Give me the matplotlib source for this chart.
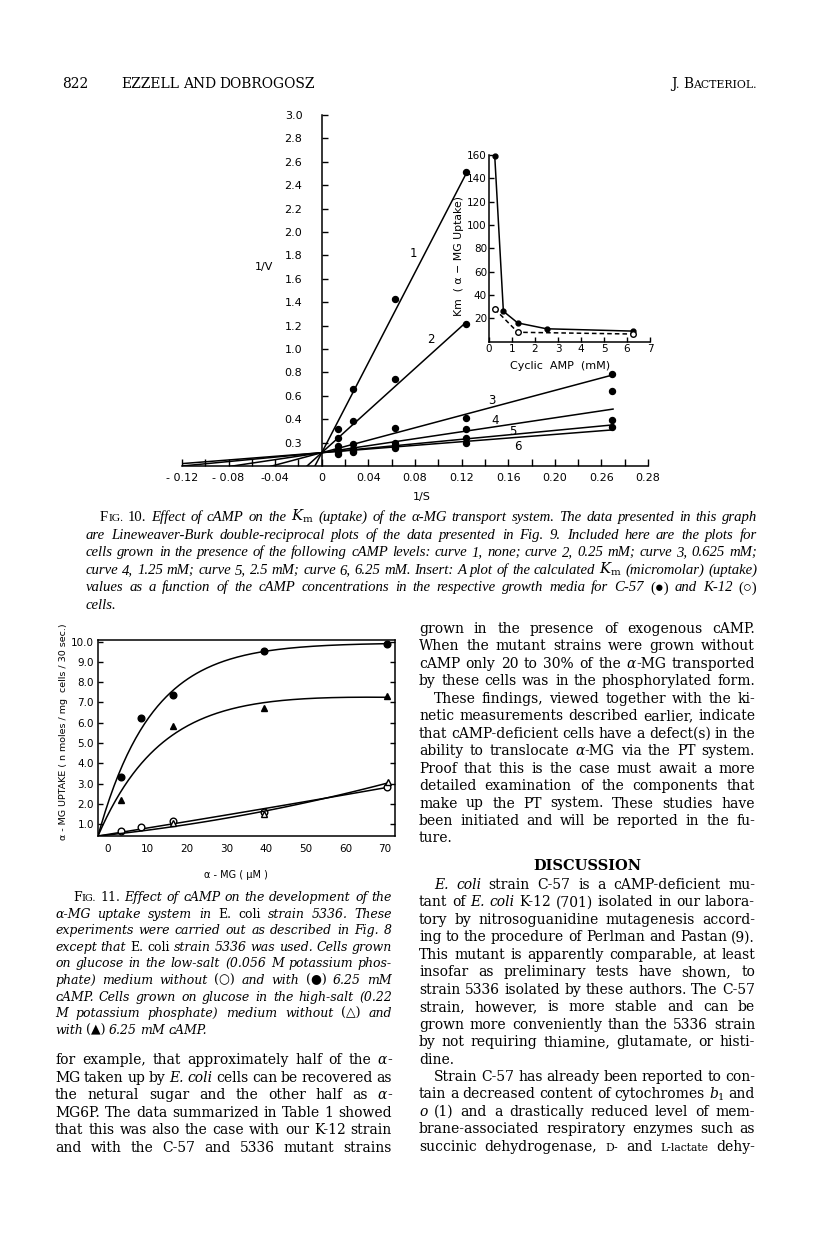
import numpy as np
import matplotlib
matplotlib.use('Agg')
import matplotlib.pyplot as plt

plt.rcParams['mathtext.fontset'] = 'dejavuserif'
SERIF = ['DejaVu Serif', 'DejaVu Sans']
TIMES = ['Liberation Serif', 'DejaVu Serif', 'DejaVu Sans']
SANS = ['DejaVu Sans']

# ---- Fig. 10 data (Lineweaver-Burk) ----
inv_s = [0.0135, 0.027, 0.0625, 0.124, 0.249]
curve1 = [0.316, 0.655, 1.427, 2.515]
curve2 = [0.242, 0.387, 0.744, 1.214]
curve3 = [0.174, 0.188, 0.325, 0.413, 0.786]
curve4 = [0.137, 0.142, 0.200, 0.316, 0.641]
curve5 = [0.120, 0.130, 0.174, 0.237, 0.393]
curve6 = [0.103, 0.123, 0.157, 0.200, 0.335]
line_intercept = 0.114
line_slope = [19.25, 9.0, 2.66, 1.49, 0.95, 0.78]
line_end = [0.124, 0.124, 0.25, 0.25, 0.25, 0.25]
line_names = ['1', '2', '3', '4', '5', '6']
name_x = [0.0785, 0.0933, 0.1456, 0.149, 0.164, 0.168]
name_y = [1.82, 1.077, 0.564, 0.393, 0.293, 0.165]
yticks10 = [0.2, 0.4, 0.6, 0.8, 1.0, 1.2, 1.4, 1.6, 1.8, 2.0, 2.2, 2.4, 2.6, 2.8, 3.0]
ylabels10 = ['0.3', '0.4', '0.6', '0.8', '1.0', '1.2', '1.4', '1.6', '1.8', '2.0',
             '2.2', '2.4', '2.6', '2.8', '3.0']
xticks10 = [-0.12, -0.08, -0.04, 0, 0.04, 0.08, 0.12, 0.16, 0.20, 0.24, 0.28]
xlabels10 = ['- 0.12', '- 0.08', '-0.04', '0', '0.04', '0.08', '0.12', '0.16',
             '0.20', '0.26', '0.28']

# inset: Km vs cyclic AMP
camp_c57 = [0.25, 0.625, 1.25, 2.5, 6.25]
km_c57 = [159, 26, 16, 11, 9]
camp_k12 = [0.25, 1.25, 6.25]
km_k12 = [28, 8, 6.5]

# ---- Fig. 11 data ----
mg = [3.3, 8.4, 16.4, 39.4, 70.4]
low_camp = [3.3, 6.25, 7.37, 9.55, 9.87]      # filled circles
low_none = [0.67, 0.84, 1.15, 1.58, 2.85]     # open circles
mg_hi = [3.4, 16.4, 39.4, 70.4]
high_camp = [2.19, 5.84, 6.74, 7.32]          # filled triangles
mg_hi_none = [16.4, 39.4, 70.7]
high_none = [1.04, 1.50, 3.06]                # open triangles

W, H = 816, 1238
fig = plt.figure(figsize=(W / 100, H / 100), dpi=100)
fig.patch.set_facecolor('white')
R = fig.canvas.get_renderer()


def fx(px):
    return px / W


def fy(py):
    return 1 - py / H


def make_token(tok, size, base, weight, family):
    if tok.startswith('^'):
        tok = tok[1:]
        parts = [(tok[0], 'normal', size), (tok[1:].upper(), 'normal', size * 0.78)]
    elif tok.startswith('~'):
        parts = [(tok[1:], 'normal', size * 0.78)]
    else:
        alt = 'italic' if base == 'normal' else 'normal'
        parts = [(s, base if i % 2 == 0 else alt, size)
                 for i, s in enumerate(tok.split('|')) if s]
    out, w = [], 0
    for s, st, sz in parts:
        t = fig.text(0, 0, s, fontsize=sz, style=st, family=family, weight=weight,
                     va='baseline', ha='left')
        out.append((t, w))
        w += t.get_window_extent(R).width
    return out, w


def line(x0, x1, yb, text, size=9.5, base='normal', justify=True, weight='normal',
         align='left', family=SERIF):
    groups = [make_token(tok, size, base, weight, family) for tok in text.split(' ')]
    total = sum(w for _, w in groups)
    n = len(groups)
    if justify and n > 1:
        gap = max((x1 - x0 - total) / (n - 1), 1.5)
    else:
        gap = size * 100 / 72 * 0.27
    x = x0
    if align == 'right':
        x = x1 - total - gap * (n - 1)
    elif align == 'center':
        x = (x0 + x1 - total - gap * (n - 1)) / 2
    for arts, w in groups:
        for t, off in arts:
            t.set_position((fx(x + off), fy(yb)))
        x += w + gap


def block(x0, x1, y0, dy, rows, size, base='normal', family=SERIF):
    for i, row in enumerate(rows):
        txt, just, ind = row
        line(x0 + ind, x1, y0 + i * dy, txt, size=size, base=base, justify=just,
             family=family)


# ---- header ----
line(62, 400, 88, '822', size=10, justify=False)
line(100, 315, 88, 'EZZELL AND DOBROGOSZ', size=10, justify=False, align='right')
line(400, 757, 88, '^J. ^BACTERIOL.', size=10, justify=False, align='right')

# ---- Fig. 10 main plot ----
ax = fig.add_axes([fx(182), fy(466), (648 - 182) / W, (466 - 115) / H])
ax.set_xlim(-0.12, 0.28)
ax.set_ylim(0, 3.0)
for s in ['top', 'right']:
    ax.spines[s].set_visible(False)
ax.spines['left'].set_position(('data', 0))
for s in ['left', 'bottom']:
    ax.spines[s].set_linewidth(1.1)
ax.set_xticks(xticks10)
ax.set_xticklabels(xlabels10)
ax.set_xticks(np.arange(-0.10, 0.28, 0.04), minor=True)
ax.set_yticks(yticks10)
ax.set_yticklabels(ylabels10)
ax.tick_params(axis='x', which='both', direction='in', length=5, width=1, pad=5,
               labelsize=8)
ax.tick_params(axis='y', direction='in', length=4, width=1, pad=14, labelsize=8)
for lab in ax.get_xticklabels() + ax.get_yticklabels():
    lab.set_family(SANS)

series10 = [curve1, curve2, curve3, curve4, curve5, curve6]
for i, vals in enumerate(series10):
    xs = inv_s[:len(vals)]
    xl = np.array([-0.12, line_end[i]])
    ax.plot(xl, line_intercept + line_slope[i] * xl, color='black', lw=1.1)
    ax.plot(xs, vals, 'o', color='black', ms=4.3, clip_on=False)
    ax.text(name_x[i], name_y[i], line_names[i], fontsize=8.5, family=SANS,
            ha='center', va='center')
ax.text(-0.05, 1.70, '1/V', fontsize=8, family=SANS, ha='center', va='center')
fig.text(fx(422), fy(497), '1/S', fontsize=8, family=SANS, ha='center', va='center')

# ---- inset ----
ai = fig.add_axes([fx(489), fy(341.6), (650 - 489) / W, (341.6 - 155) / H])
ai.set_xlim(0, 7)
ai.set_ylim(0, 160)
for s in ['top', 'right']:
    ai.spines[s].set_visible(False)
for s in ['left', 'bottom']:
    ai.spines[s].set_linewidth(1.1)
ai.set_xticks(range(8))
ai.set_yticks(range(20, 161, 20))
ai.tick_params(direction='in', length=3.5, width=1, labelsize=7.5, pad=1.5)
for lab in ai.get_xticklabels() + ai.get_yticklabels():
    lab.set_family(SANS)
ai.patch.set_alpha(0)
ai.plot(camp_c57, km_c57, '-o', color='black', lw=1.1, ms=3.5, clip_on=False)
ai.plot(camp_k12, km_k12, '--o', color='black', lw=1.1, ms=4, mfc='white',
        dashes=(3, 2), clip_on=False)
fig.text(fx(459), fy(256), 'Km  ( α − MG Uptake)', rotation=90, fontsize=7.8,
         family=SANS, ha='center', va='center')
fig.text(fx(560), fy(366), 'Cyclic  AMP  (mM)', fontsize=8, family=SANS,
         ha='center', va='center')

# ---- Fig. 10 caption ----
cap10 = [
    ('^FIG. |10.| Effect of cAMP on the $K_\\mathrm{m}$ (uptake) of the α-MG transport system. The data presented in this graph', True, 14),
    ('are Lineweaver-Burk double-reciprocal plots of the data presented in Fig. 9. Included here are the plots for', True, 0),
    ('cells grown in the presence of the following cAMP levels: curve 1, none; curve 2, 0.25 mM; curve 3, 0.625 mM;', True, 0),
    ('curve 4, 1.25 mM; curve 5, 2.5 mM; curve 6, 6.25 mM. Insert: A plot of the calculated $K_\\mathrm{m}$ (micromolar) (uptake)', True, 0),
    ('values as a function of the cAMP concentrations in the respective growth media for C-57 |(●)| and K-12 |(○)|', True, 0),
    ('cells.', False, 0),
]
block(86, 757, 521, 17.6, cap10, size=10.6, base='italic', family=TIMES)

# ---- Fig. 11 ----
a11 = fig.add_axes([fx(98), fy(836), (395 - 98) / W, (836 - 640) / H])
x0, y0 = -2.5, 0.41
a11.set_xlim(x0, 72.5)
a11.set_ylim(y0, 10.08)
for s in a11.spines.values():
    s.set_linewidth(1.1)
a11.set_xticks(range(0, 71, 10))
a11.set_yticks(range(1, 11))
a11.set_yticklabels(['%.1f' % v for v in range(1, 11)])
a11.tick_params(axis='x', length=0, pad=6, labelsize=7.5)
a11.tick_params(axis='y', direction='in', length=3.5, width=1, right=True, pad=3,
                labelsize=7.5)
for lab in a11.get_xticklabels() + a11.get_yticklabels():
    lab.set_family(SANS)


def sat_fit(x, y, tail=False):
    dx = np.asarray(x) - x0
    dy = np.asarray(y) - y0
    best = None
    for k in np.linspace(0.02, 0.3, 281):
        cols = [1 - np.exp(-k * dx)] + ([dx] if tail else [])
        A = np.column_stack(cols)
        p, *_ = np.linalg.lstsq(A, dy, rcond=None)
        err = np.sum((A @ p - dy) ** 2)
        if best is None or err < best[0]:
            best = (err, k, p)
    _, k, p = best
    xx = np.linspace(0, 73, 200)
    yy = p[0] * (1 - np.exp(-k * xx)) + (p[1] * xx if tail else 0)
    return xx + x0, yy + y0


def quad_fit(x, y):
    dx = np.asarray(x) - x0
    dy = np.asarray(y) - y0
    A = np.column_stack([dx, dx ** 2])
    p, *_ = np.linalg.lstsq(A, dy, rcond=None)
    xx = np.linspace(0, 73.2, 100)
    return xx + x0, p[0] * xx + p[1] * xx ** 2 + y0


for xs, ys, mk, fc, fit in [
        (mg, low_camp, 'o', 'black', sat_fit(mg, low_camp)),
        (mg_hi, high_camp, '^', 'black', sat_fit(mg_hi, high_camp, tail=True)),
        (mg, low_none, 'o', 'white', quad_fit(mg, low_none)),
        (mg_hi_none, high_none, '^', 'white', quad_fit(mg_hi_none, high_none))]:
    a11.plot(*fit, color='black', lw=1.1)
    a11.plot(xs, ys, mk, color='black', mfc=fc, ms=4.8, mew=1, clip_on=False)

fig.text(fx(63), fy(732), 'α - MG UPTAKE ( n moles / mg  cells / 30 sec.)', rotation=90,
         fontsize=6.8, family=SANS, ha='center', va='center')
fig.text(fx(236), fy(875), 'α - MG ( μM )', fontsize=7, family=SANS,
         ha='center', va='center')

cap11 = [
    ('^FIG. |11.| Effect of cAMP on the development of the', True, 18),
    ('α-MG uptake system in |E.| |coli| strain 5336. These', True, 0),
    ('experiments were carried out as described in Fig. 8', True, 0),
    ('except that |E.| |coli| strain 5336 was used. Cells grown', True, 0),
    ('on glucose in the low-salt (0.056 M potassium phos-', True, 0),
    ('phate) medium without |(○)| and with |(●)| 6.25 mM', True, 0),
    ('cAMP. Cells grown on glucose in the high-salt (0.22', True, 0),
    ('M potassium phosphate) medium without |(△)| and', True, 0),
    ('with |(▲)| 6.25 mM cAMP.', False, 0),
]
block(55, 392, 901, 16.6, cap11, size=9.0, base='italic')

left_body = [
    ('for example, that approximately half of the |α|-', True, 0),
    ('MG taken up by |E.| |coli| cells can be recovered as', True, 0),
    ('the netural sugar and the other half as |α|-', True, 0),
    ('MG6P. The data summarized in Table 1 showed', True, 0),
    ('that this was also the case with our K-12 strain', True, 0),
    ('and with the C-57 and 5336 mutant strains', True, 0),
]
block(55, 392, 1064, 17.6, left_body, size=10.0)

right1 = [
    ('grown in the presence of exogenous cAMP.', True, 0),
    ('When the mutant strains were grown without', True, 0),
    ('cAMP only 20 to 30% of the |α|-MG transported', True, 0),
    ('by these cells was in the phosphorylated form.', True, 0),
    ('These findings, viewed together with the ki-', True, 15),
    ('netic measurements described earlier, indicate', True, 0),
    ('that cAMP-deficient cells have a defect(s) in the', True, 0),
    ('ability to translocate |α|-MG via the PT system.', True, 0),
    ('Proof that this is the case must await a more', True, 0),
    ('detailed examination of the components that', True, 0),
    ('make up the PT system. These studies have', True, 0),
    ('been initiated and will be reported in the fu-', True, 0),
    ('ture.', False, 0),
]
block(419, 755, 633, 17.45, right1, size=10.0)
line(419, 755, 870, 'DISCUSSION', size=10.5, justify=False, weight='bold', align='center')

right2 = [
    ('|E.| |coli| strain C-57 is a cAMP-deficient mu-', True, 15),
    ('tant of |E.| |coli| K-12 (701) isolated in our labora-', True, 0),
    ('tory by nitrosoguanidine mutagenesis accord-', True, 0),
    ('ing to the procedure of Perlman and Pastan (9).', True, 0),
    ('This mutant is apparently comparable, at least', True, 0),
    ('insofar as preliminary tests have shown, to', True, 0),
    ('strain 5336 isolated by these authors. The C-57', True, 0),
    ('strain, however, is more stable and can be', True, 0),
    ('grown more conveniently than the 5336 strain', True, 0),
    ('by not requiring thiamine, glutamate, or histi-', True, 0),
    ('dine.', False, 0),
    ('Strain C-57 has already been reported to con-', True, 15),
    ('tain a decreased content of cytochromes $b_1$ and', True, 0),
    ('|o| (1) and a drastically reduced level of mem-', True, 0),
    ('brane-associated respiratory enzymes such as', True, 0),
    ('succinic dehydrogenase, ~D- and ~L-lactate dehy-', True, 0),
]
block(419, 755, 889, 17.45, right2, size=10.0)

fig.savefig('out.png', dpi=100, facecolor='white')
